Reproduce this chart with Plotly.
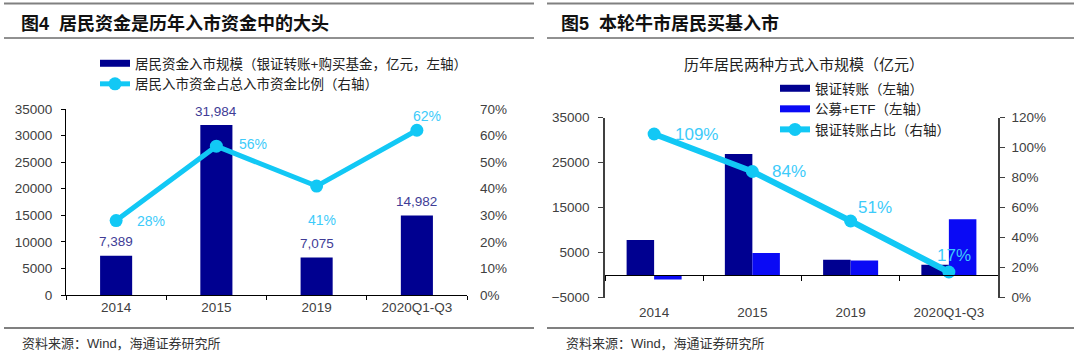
import plotly.graph_objects as go

# ---------------- data ----------------
categories = ["2014", "2015", "2019", "2020Q1-Q3"]

# Figure 4
resident_inflow = [7389, 31984, 7075, 14982]          # 亿元
resident_share = [0.28, 0.56, 0.41, 0.62]

# Figure 5
bank_transfer = [7800, 26900, 3400, 2300]             # 银证转账
fund_etf = [-1000, 4900, 3200, 12400]                 # 公募+ETF
bank_share = [1.09, 0.84, 0.51, 0.17]

# ---------------- styles ----------------
W, H = 1080, 359
NAVY = "#000090"
BLUE = "#0A0AF5"
CYAN = "#12C8F5"
CYAN_TXT = "#3DCBFA"
TICK = "#404040"
LAT = "Liberation Sans, Arial, Noto Sans CJK SC, sans-serif"
CJK = "Liberation Sans, Noto Sans CJK SC, sans-serif"

def px(x):
    return x / W

def py(y):
    return 1 - y / H

cat_idx = list(range(len(categories)))

# label placement styles (pixel shifts)
left_pct_style = [("left", 19, 0), ("left", 21, 2), ("center", 5, -34), ("center", 10, 14)]
right_pct_style = [("left", 19, 0), ("left", 18, 0), ("left", 5, 14), ("center", 5, 17)]

fig = go.Figure()

# ---- Figure 4 traces ----
fig.add_trace(go.Bar(x=categories, y=resident_inflow, width=0.32, marker_color=NAVY,
                     marker_line_width=0, xaxis="x", yaxis="y", showlegend=False))
fig.add_trace(go.Scatter(x=[None], y=[None], mode="lines", line=dict(color=NAVY, width=7),
                         name="居民资金入市规模（银证转账+购买基金，亿元，左轴）",
                         xaxis="x", yaxis="y", legend="legend"))
fig.add_trace(go.Scatter(x=categories, y=resident_share, mode="lines+markers",
                         line=dict(color=CYAN, width=5), marker=dict(size=13, color=CYAN),
                         name="居民入市资金占总入市资金比例（右轴）",
                         xaxis="x", yaxis="y2", legend="legend"))

# ---- Figure 5 traces ----
fig.add_trace(go.Bar(x=categories, y=bank_transfer, width=0.28, offset=-0.28, marker_color=NAVY,
                     marker_line_width=0, xaxis="x2", yaxis="y3", showlegend=False))
fig.add_trace(go.Bar(x=categories, y=fund_etf, width=0.28, offset=0.0, marker_color=BLUE,
                     marker_line_width=0, xaxis="x2", yaxis="y3", showlegend=False))
fig.add_trace(go.Scatter(x=[None], y=[None], mode="lines", line=dict(color=NAVY, width=7),
                         name="银证转账（左轴）", xaxis="x2", yaxis="y3", legend="legend2"))
fig.add_trace(go.Scatter(x=[None], y=[None], mode="lines", line=dict(color=BLUE, width=7),
                         name="公募+ETF（左轴）", xaxis="x2", yaxis="y3", legend="legend2"))
fig.add_trace(go.Scatter(x=categories, y=bank_share, mode="lines+markers",
                         line=dict(color=CYAN, width=6), marker=dict(size=13, color=CYAN),
                         name="银证转账占比（右轴）", xaxis="x3", yaxis="y4", legend="legend2"))

annotations = []
# bar value labels (fig 4)
for i, v in zip(cat_idx, resident_inflow):
    annotations.append(dict(x=i, y=v, xref="x", yref="y", text=f"{v:,}", showarrow=False,
                            yshift=14, font=dict(family=LAT, size=13.5, color="#403C96")))
# pct labels fig 4
for i, v, (xa, xs, ys) in zip(cat_idx, resident_share, left_pct_style):
    annotations.append(dict(x=i, y=v, xref="x", yref="y2", text=f"{round(v*100)}%", showarrow=False,
                            xanchor=xa, xshift=xs, yshift=ys,
                            font=dict(family=LAT, size=14, color=CYAN_TXT)))
# pct labels fig 5
for i, v, (xa, xs, ys) in zip(cat_idx, bank_share, right_pct_style):
    annotations.append(dict(x=i, y=v, xref="x3", yref="y4", text=f"{round(v*100)}%", showarrow=False,
                            xanchor=xa, xshift=xs, yshift=ys,
                            font=dict(family=LAT, size=17, color=CYAN_TXT)))

# titles & sources
annotations += [
    dict(x=px(19), y=py(23), xref="paper", yref="paper", xanchor="left", yanchor="middle",
         text="<b>图4  居民资金是历年入市资金中的大头</b>", showarrow=False,
         font=dict(family=CJK, size=18, color="#111")),
    dict(x=px(559), y=py(23), xref="paper", yref="paper", xanchor="left", yanchor="middle",
         text="<b>图5  本轮牛市居民买基入市</b>", showarrow=False,
         font=dict(family=CJK, size=18, color="#111")),
    dict(x=px(804), y=py(65), xref="paper", yref="paper", xanchor="center", yanchor="middle",
         text="历年居民两种方式入市规模（亿元）", showarrow=False,
         font=dict(family=CJK, size=15, color="#222")),
    dict(x=px(20), y=py(343), xref="paper", yref="paper", xanchor="left", yanchor="middle",
         text="资料来源：Wind，海通证券研究所", showarrow=False,
         font=dict(family=CJK, size=13, color="#333")),
    dict(x=px(564), y=py(343), xref="paper", yref="paper", xanchor="left", yanchor="middle",
         text="资料来源：Wind，海通证券研究所", showarrow=False,
         font=dict(family=CJK, size=13, color="#333")),
]

shapes = []
for x0, x1 in [(4, 534), (547, 1074)]:
    shapes.append(dict(type="line", xref="paper", yref="paper", x0=px(x0), x1=px(x1),
                       y0=py(3.5), y1=py(3.5), line=dict(color="#808080", width=2)))
    shapes.append(dict(type="line", xref="paper", yref="paper", x0=px(x0), x1=px(x1),
                       y0=py(38), y1=py(38), line=dict(color="#222", width=1)))
    shapes.append(dict(type="line", xref="paper", yref="paper", x0=px(x0), x1=px(x1),
                       y0=py(328), y1=py(328), line=dict(color="#808080", width=2)))

tickfont = dict(family=LAT, size=13.5, color=TICK)

# domains
L_x = [px(66), px(467)]
L_y = [py(295), py(109)]
R_x = [px(605), px(998)]
R_y = [py(297.5), py(117.5)]
zero_pos = py(275)

fig.update_layout(
    width=W, height=H, margin=dict(l=0, r=0, t=0, b=0, autoexpand=False),
    autosize=False,
    paper_bgcolor="white", plot_bgcolor="white",
    barmode="overlay",
    xaxis=dict(domain=L_x, anchor="y", type="category", categoryarray=categories,
               range=[-0.5, 3.5], showline=True, linecolor="#000", linewidth=1,
               ticks="outside", tickson="boundaries", ticklen=4, tickcolor="#000",
               showgrid=False, tickfont=tickfont, automargin=False),
    yaxis=dict(domain=L_y, anchor="x", range=[0, 35000], dtick=5000, tickformat="d",
               showline=True, linecolor="#000", linewidth=1, ticks="outside", ticklen=4,
               tickcolor="#000", showgrid=False, zeroline=False, tickfont=tickfont,
               ticklabelstandoff=6, automargin=False),
    yaxis2=dict(overlaying="y", anchor="x", side="right", range=[0, 0.7], dtick=0.1,
                tickformat=".0%", showline=False, ticks="", showgrid=False, zeroline=False,
                tickfont=tickfont, ticklabelstandoff=12, automargin=False),
    xaxis2=dict(domain=R_x, anchor="y3", type="category", categoryarray=categories,
                range=[-0.5, 3.5], showline=False, ticks="", showgrid=False,
                tickfont=tickfont, ticklabelstandoff=5, automargin=False),
    xaxis3=dict(overlaying="x2", anchor="free", position=zero_pos, type="category",
                categoryarray=categories, range=[-0.5, 3.5], showline=True,
                linecolor="#000", linewidth=1, ticks="outside", tickson="boundaries",
                ticklen=5, tickcolor="#000", showticklabels=False, showgrid=False,
                automargin=False),
    yaxis3=dict(domain=R_y, anchor="x2", range=[-5000, 35000], tick0=-5000, dtick=10000,
                tickformat="d", showline=True, linecolor=TICK, linewidth=1.5, ticks="outside",
                ticklen=5, tickcolor=TICK, showgrid=False, zeroline=False, tickfont=tickfont,
                ticklabelstandoff=6, automargin=False),
    yaxis4=dict(overlaying="y3", anchor="x3", side="right", range=[0, 1.2], dtick=0.2,
                tickformat=".0%", showline=True, linecolor=TICK, linewidth=1.5,
                ticks="outside", ticklen=5, tickcolor=TICK, showgrid=False, zeroline=False,
                tickfont=tickfont, ticklabelstandoff=4, automargin=False),
    legend=dict(x=px(95), y=py(48), xanchor="left", yanchor="top", bgcolor="rgba(0,0,0,0)",
                font=dict(family=CJK, size=13.5, color="#222"), tracegroupgap=0,
                itemwidth=30, traceorder="normal"),
    legend2=dict(x=px(775), y=py(73), xanchor="left", yanchor="top", bgcolor="rgba(0,0,0,0)",
                 font=dict(family=CJK, size=13.5, color="#222"), tracegroupgap=0,
                 itemwidth=30, traceorder="normal"),
    annotations=annotations,
    shapes=shapes,
)

fig.write_html("out.html", config={"displayModeBar": False},
               post_script="document.body.style.margin='0';document.body.style.overflow='hidden';")
